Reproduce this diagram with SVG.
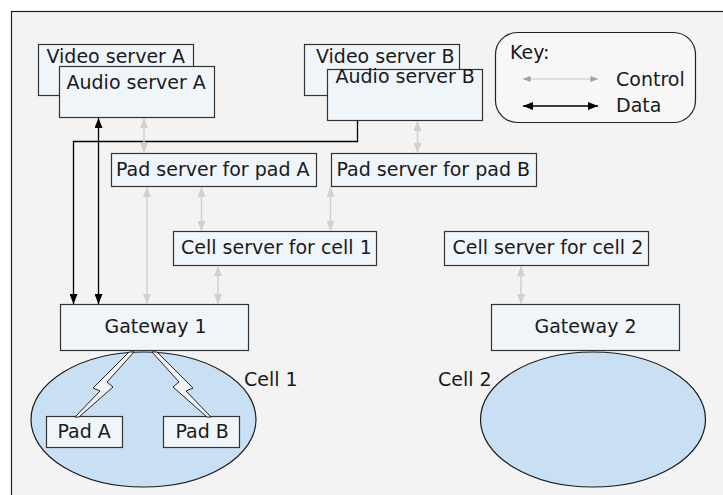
<svg xmlns="http://www.w3.org/2000/svg" width="723" height="495" viewBox="0 0 723 495">
<style>
text{font-family:"DejaVu Sans","Liberation Sans",sans-serif;font-size:19px;fill:#1a1a1a}
.node{fill:#f0f5fa;stroke:#333;stroke-width:1.2}
.cell{fill:#c9e0f4;stroke:#1a1a1a;stroke-width:1.2}
.ctrl{stroke:#d0d0d0;stroke-width:1.5;fill:none;marker-start:url(#ga);marker-end:url(#ga)}
.data{stroke:#000;stroke-width:1.3;fill:none}
.bolt{fill:#f2f2f2;stroke:#222;stroke-width:1}
</style>
<defs>
<marker id="ba" viewBox="0 0 10 8" refX="10" refY="4" markerWidth="10" markerHeight="8" markerUnits="userSpaceOnUse" orient="auto-start-reverse"><path d="M0,0 L10,4 L0,8 z" fill="#000"/></marker>
<marker id="ga" viewBox="0 0 10 8" refX="10" refY="4" markerWidth="10" markerHeight="8" markerUnits="userSpaceOnUse" orient="auto-start-reverse"><path d="M0,0 L10,4 L0,8 z" fill="#d0d0d0"/></marker>
<marker id="gk" viewBox="0 0 10 8" refX="10" refY="4" markerWidth="8" markerHeight="6" markerUnits="userSpaceOnUse" orient="auto-start-reverse"><path d="M0,0 L10,4 L0,8 z" fill="#a0a0a0"/></marker>
</defs>
<rect x="0" y="0" width="723" height="495" fill="#fff"/>
<rect x="11.5" y="11.5" width="720" height="500" fill="#f3f3f3" stroke="#222" stroke-width="1.2"/>

<g id="key">
<rect x="495.5" y="32.5" width="200" height="90" rx="22" ry="22" fill="#f7f7f7" stroke="#222" stroke-width="1.2"/>
<text x="510" y="59">Key:</text>
<line x1="523" y1="79" x2="598" y2="79" stroke="#d6d6d6" stroke-width="1.5" marker-start="url(#gk)" marker-end="url(#gk)"/>
<text x="616" y="86">Control</text>
<line x1="523" y1="106" x2="598" y2="106" class="data" marker-start="url(#ba)" marker-end="url(#ba)"/>
<text x="616" y="112">Data</text>
</g>

<g id="cell1">
<ellipse class="cell" cx="143.5" cy="419.5" rx="112.5" ry="67.5"/>
<text x="244" y="386">Cell 1</text>
</g>
<g id="cell2">
<ellipse class="cell" cx="593" cy="419.5" rx="112.5" ry="67.5"/>
<text x="438" y="386">Cell 2</text>
</g>

<g id="video-a"><rect class="node" x="38.5" y="44.5" width="155" height="51"/><text x="46.5" y="63">Video server A</text></g>
<g id="audio-a"><rect class="node" x="59.5" y="66.5" width="155" height="51"/><text x="66.5" y="89">Audio server A</text></g>
<g id="video-b"><rect class="node" x="304.5" y="44.5" width="155" height="51"/><text x="316" y="63">Video server B</text></g>
<g id="audio-b"><rect class="node" x="327.5" y="69.5" width="155" height="51"/><text x="335.5" y="83">Audio server B</text></g>
<g id="pad-server-a"><rect class="node" x="111.5" y="153.5" width="205" height="33"/><text x="116" y="176">Pad server for pad A</text></g>
<g id="pad-server-b"><rect class="node" x="331.5" y="153.5" width="205" height="33"/><text x="336.5" y="176">Pad server for pad B</text></g>
<g id="cell-server-1"><rect class="node" x="173.5" y="231.5" width="203" height="34"/><text x="181" y="254">Cell server for cell 1</text></g>
<g id="cell-server-2"><rect class="node" x="444.5" y="231.5" width="204" height="34"/><text x="452.5" y="254">Cell server for cell 2</text></g>
<g id="gateway-1"><rect class="node" x="60.5" y="304.5" width="188" height="46"/><text x="104.5" y="333">Gateway 1</text></g>
<g id="gateway-2"><rect class="node" x="491.5" y="304.5" width="188" height="46"/><text x="534.5" y="333">Gateway 2</text></g>
<g id="pad-a"><rect class="node" x="46.5" y="416.5" width="76" height="31"/><text x="57.5" y="438">Pad A</text></g>
<g id="pad-b"><rect class="node" x="163.5" y="416.5" width="76" height="31"/><text x="175.5" y="438">Pad B</text></g>

<g id="connectors">
<path class="data" d="M357.5,120.5 V141.5 H73.5 V304" marker-end="url(#ba)"/>
<path class="data" d="M98.5,304 V118" marker-start="url(#ba)" marker-end="url(#ba)"/>
<line class="ctrl" x1="144" y1="118" x2="144" y2="153"/>
<line class="ctrl" x1="417.5" y1="121" x2="417.5" y2="153"/>
<line class="ctrl" x1="147" y1="187" x2="147" y2="304"/>
<line class="ctrl" x1="201.5" y1="187" x2="201.5" y2="231"/>
<line class="ctrl" x1="330.5" y1="187" x2="330.5" y2="231"/>
<line class="ctrl" x1="218" y1="266" x2="218" y2="304"/>
<line class="ctrl" x1="521" y1="266" x2="521" y2="304"/>
<polygon class="bolt" points="129,352 134,352 107,382 113,387 79,417 75,417 100,391 93,388"/>
<polygon class="bolt" points="157,352 152,352 179,382 173,387 207,417 211,417 186,391 193,388"/>
</g>
</svg>
